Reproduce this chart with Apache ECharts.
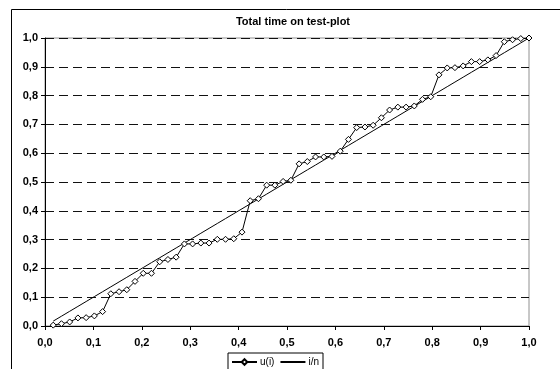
<!DOCTYPE html>
<html>
<head>
<meta charset="utf-8">
<script src="https://cdn.jsdelivr.net/npm/echarts@6/dist/echarts.min.js"></script>
<style>
html,body{margin:0;padding:0;background:#fff;}
#chart{width:560px;height:369px;}
</style>
</head>
<body>
<div id="chart"></div>
<script>
const titleText = 'Total time on test-plot';
const seriesNames = ['u(i)', 'i/n'];
const xValues = [0.017,0.034,0.051,0.068,0.085,0.102,0.119,0.136,0.153,0.169,0.186,0.203,0.220,0.237,0.254,0.271,0.288,0.305,0.322,0.339,0.356,0.373,0.390,0.407,0.424,0.441,0.458,0.475,0.492,0.508,0.525,0.542,0.559,0.576,0.593,0.610,0.627,0.644,0.661,0.678,0.695,0.712,0.729,0.746,0.763,0.780,0.797,0.814,0.831,0.847,0.864,0.881,0.898,0.915,0.932,0.949,0.966,0.983,1.000];
const uValues = [0.003,0.008,0.014,0.028,0.029,0.035,0.050,0.112,0.119,0.126,0.155,0.183,0.183,0.223,0.231,0.239,0.285,0.285,0.288,0.288,0.301,0.301,0.303,0.326,0.435,0.442,0.489,0.489,0.502,0.506,0.563,0.571,0.587,0.587,0.589,0.607,0.648,0.689,0.691,0.697,0.723,0.750,0.760,0.760,0.764,0.787,0.796,0.872,0.896,0.897,0.903,0.918,0.918,0.924,0.939,0.987,0.994,0.998,1.000];
const inValues = [0.017,0.034,0.051,0.068,0.085,0.102,0.119,0.136,0.153,0.169,0.186,0.203,0.220,0.237,0.254,0.271,0.288,0.305,0.322,0.339,0.356,0.373,0.390,0.407,0.424,0.441,0.458,0.475,0.492,0.508,0.525,0.542,0.559,0.576,0.593,0.610,0.627,0.644,0.661,0.678,0.695,0.712,0.729,0.746,0.763,0.780,0.797,0.814,0.831,0.847,0.864,0.881,0.898,0.915,0.932,0.949,0.966,0.983,1.000];
const tickLabels = ['0,0','0,1','0,2','0,3','0,4','0,5','0,6','0,7','0,8','0,9','1,0'];

const FONT = "'Liberation Sans', Arial, sans-serif";
const chart = echarts.init(document.getElementById('chart'), null, {renderer: 'canvas'});
const labelFmt = v => tickLabels[Math.round(v * 10)];

chart.setOption({
  animation: false,
  backgroundColor: '#fff',
  title: {
    text: titleText, left: 293, top: 16, padding: 0, textAlign: 'center',
    textStyle: {fontFamily: FONT, fontSize: 11, fontWeight: 'bold', color: '#000'}
  },
  graphic: [{
    type: 'rect', z: -10, silent: true,
    shape: {x: 11.5, y: 9.5, width: 600, height: 400},
    style: {fill: 'none', stroke: '#000', lineWidth: 1}
  }],
  legend: {
    left: 228, top: 353, orient: 'horizontal',
    borderColor: '#000', borderWidth: 1, padding: [4, 4, 4, 3],
    itemGap: 5, itemWidth: 25, itemHeight: 7,
    textStyle: {fontFamily: FONT, fontSize: 10, color: '#000', padding: [0, 0, 0, -2]},
    data: [
      {name: seriesNames[0]},
      {name: seriesNames[1], itemStyle: {opacity: 0}}
    ]
  },
  grid: {
    left: 45, right: 31, top: 38, bottom: 43, show: true,
    borderColor: '#909090', borderWidth: 1, backgroundColor: '#fff'
  },
  xAxis: {
    type: 'value', min: 0, max: 1, interval: 0.1,
    axisLine: {show: true, onZero: false, lineStyle: {color: '#000', width: 1}},
    axisTick: {show: true, inside: false, length: 4, lineStyle: {color: '#000'}},
    axisLabel: {formatter: labelFmt, margin: 11, fontFamily: FONT, fontSize: 11, fontWeight: 'bold', color: '#000'},
    splitLine: {show: false}
  },
  yAxis: {
    type: 'value', min: 0, max: 1, interval: 0.1,
    axisLine: {show: true, onZero: false, lineStyle: {color: '#000', width: 1}},
    axisTick: {show: true, inside: false, length: 4, lineStyle: {color: '#000'}},
    axisLabel: {formatter: labelFmt, margin: 7, fontFamily: FONT, fontSize: 11, fontWeight: 'bold', color: '#000'},
    splitLine: {show: true, lineStyle: {color: '#111', width: 1, type: [9, 5]}}
  },
  series: [
    {
      name: seriesNames[0], type: 'line',
      data: xValues.map((x, k) => [x, uValues[k]]),
      symbol: 'diamond', symbolSize: 6, showSymbol: true,
      lineStyle: {color: '#000', width: 1},
      itemStyle: {color: '#fff', borderColor: '#000', borderWidth: 1},
      z: 3
    },
    {
      name: seriesNames[1], type: 'line',
      data: xValues.map((x, k) => [x, inValues[k]]),
      symbol: 'none', showSymbol: false,
      lineStyle: {color: '#000', width: 1},
      itemStyle: {color: '#000'},
      z: 2
    }
  ]
});
</script>
</body>
</html>
